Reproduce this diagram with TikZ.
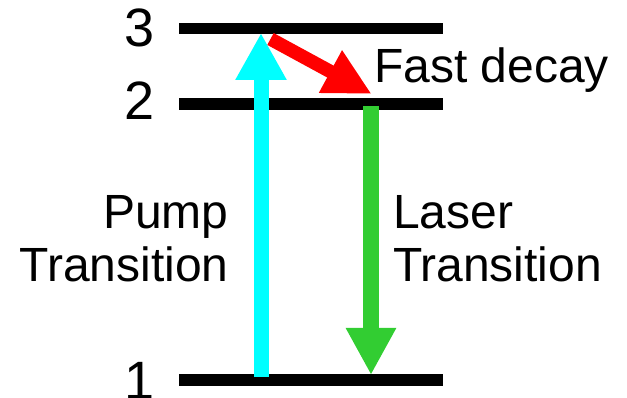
\documentclass[tikz,border=0pt]{standalone}
\usepackage{fontspec}
\setmainfont{Liberation Sans}
\usetikzlibrary{arrows.meta}
\definecolor{pumpcyan}{RGB}{0,255,255}
\definecolor{decayred}{RGB}{255,0,0}
\definecolor{lasergreen}{RGB}{50,205,50}
\begin{document}
\begin{tikzpicture}[x=1pt,y=-1pt,
  levelline/.style={line width=11.5pt, line cap=butt},
  lbl/.style={inner sep=0pt, outer sep=0pt, font=\fontsize{48}{53.5}\selectfont},
  digit/.style={inner sep=0pt, outer sep=0pt, font=\fontsize{54}{60}\selectfont},
  arrowline/.style={line cap=butt}
]
\useasboundingbox (0,0) rectangle (627,398);
% energy levels
\coordinate (l3a) at (179,28.5);  \coordinate (l3b) at (443,28.5);
\coordinate (l2a) at (179,104);   \coordinate (l2b) at (443,104);
\coordinate (l1a) at (179,380);   \coordinate (l1b) at (443,380);
\draw[levelline] (l3a) -- (l3b);
\draw[levelline] (l2a) -- (l2b);
\draw[levelline] (l1a) -- (l1b);
% arrow end points
\coordinate (pumpS) at (261,377);   \coordinate (pumpE) at (261,33);
\coordinate (decayS) at (270.5,39); \coordinate (decayE) at (371.7,94);
\coordinate (laserS) at (371,106);  \coordinate (laserE) at (371,375);
\draw[arrowline, pumpcyan, line width=15pt, -{Triangle[width=48pt,length=47pt]}] (pumpS) -- (pumpE);
\draw[arrowline, decayred, line width=13.5pt, -{Triangle[width=45pt,length=47pt]}] (decayS) -- (decayE);
\draw[arrowline, lasergreen, line width=16pt, -{Triangle[width=47pt,length=47pt]}] (laserS) -- (laserE);
% labels
\node[digit, anchor=base west] (n3) at (124,47) {3};
\node[digit, anchor=base west] (n2) at (124,120) {2};
\node[digit, anchor=base west] (n1) at (124,399) {1};
\node[lbl, anchor=base west] (fast) at (374,83) {Fast decay};
\node[lbl, align=right, anchor=base east] (pump) at (228.5,282) {Pump\\Transition};
\node[lbl, align=left, anchor=base west] (laser) at (393,282) {Laser\\Transition};
\end{tikzpicture}
\end{document}
